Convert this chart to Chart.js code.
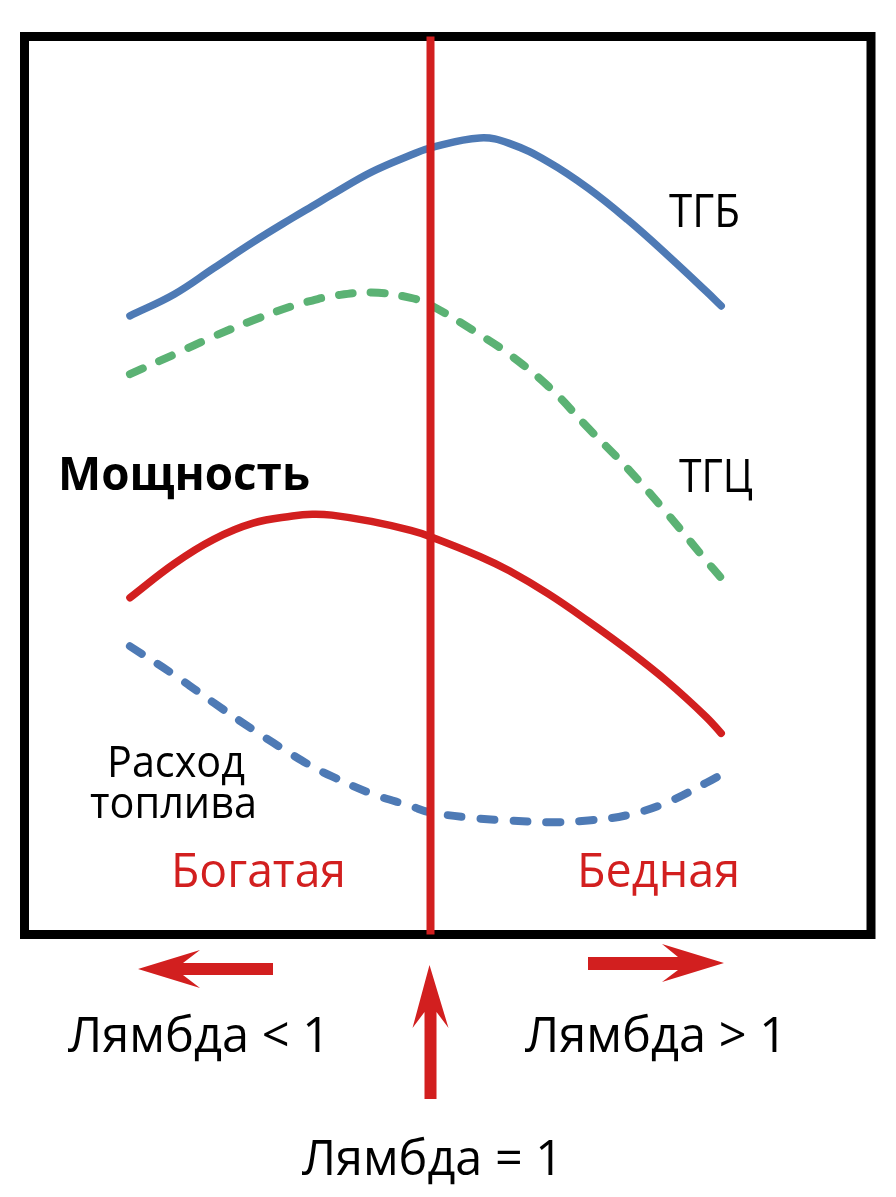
<!DOCTYPE html>
<html>
<head>
<meta charset="utf-8">
<script src="https://cdn.jsdelivr.net/npm/chart.js@4.4.1/dist/chart.umd.min.js"></script>
<style>
  html, body { margin: 0; padding: 0; background: #ffffff; }
  #wrap { position: relative; width: 896px; height: 1197px; }
</style>
</head>
<body>
<div id="wrap"><canvas id="c"></canvas></div>
<script>
// ---- data ----
const lambdaValues = [0.695, 0.74, 0.78, 0.82, 0.86, 0.88, 0.90, 0.94, 0.98, 1.00, 1.05, 1.08, 1.12, 1.16, 1.20, 1.24, 1.28, 1.295];
const tgbValues    = [68.9, 71.3, 74.2, 77.1, 79.8, 81.1, 82.4, 84.9, 86.8, 87.6, 88.7, 88.1, 86.0, 83.1, 79.6, 75.7, 71.6, 70.0];
const tgcValues    = [62.4, 64.6, 66.6, 68.4, 70.0, 70.6, 71.1, 71.5, 70.9, 70.1, 66.8, 64.6, 61.0, 56.4, 51.9, 46.9, 41.6, 39.7];
const powerValues  = [37.5, 41.3, 44.0, 45.8, 46.6, 46.8, 46.7, 46.0, 45.0, 44.3, 42.1, 40.5, 37.9, 34.9, 31.7, 28.2, 24.2, 22.4];
const fuelValues   = [32.1, 28.9, 25.8, 22.8, 20.0, 18.7, 17.6, 15.7, 14.3, 13.6, 12.9, 12.7, 12.5, 12.7, 13.3, 14.7, 16.9, 17.8];
const stoichLambda = 1;

const seriesNames = ['ТГБ', 'ТГЦ', 'Мощность', 'Расход топлива'];
const labelTGB = 'ТГБ';
const labelTGC = 'ТГЦ';
const labelPower = 'Мощность';
const labelFuel = ['Расход', 'топлива'];
const labelRich = 'Богатая';
const labelLean = 'Бедная';
const labelLess = 'Лямбда < 1';
const labelMore = 'Лямбда > 1';
const labelEq = 'Лямбда = 1';

// ---- styles ----
const BLUE = '#4E7AB5';
const GREEN = '#5BB274';
const RED = '#D21F1F';
const FONT = '"Open Sans", "Noto Sans", sans-serif';

function pts(ys) { return lambdaValues.map((x, i) => ({ x: x, y: ys[i] })); }

function fitText(ctx, text, cx, baseline, width, font, color) {
  ctx.save();
  ctx.font = font;
  const w = ctx.measureText(text).width;
  ctx.translate(cx, baseline);
  ctx.scale(width / w, 1);
  ctx.textAlign = 'center';
  ctx.textBaseline = 'alphabetic';
  ctx.fillStyle = color;
  ctx.fillText(text, 0, 0);
  ctx.restore();
}

function poly(ctx, p, color) {
  ctx.save();
  ctx.beginPath();
  ctx.moveTo(p[0][0], p[0][1]);
  for (let i = 1; i < p.length; i++) ctx.lineTo(p[i][0], p[i][1]);
  ctx.closePath();
  ctx.fillStyle = color;
  ctx.fill();
  ctx.restore();
}

const decor = {
  id: 'decor',
  beforeDraw(chart) {
    const ctx = chart.ctx;
    ctx.save();
    ctx.fillStyle = '#ffffff';
    ctx.fillRect(0, 0, chart.width, chart.height);
    ctx.restore();
  },
  afterDatasetsDraw(chart) {
    const ctx = chart.ctx;
    const a = chart.chartArea;
    const xs = chart.scales.x;
    // frame
    ctx.save();
    ctx.strokeStyle = '#000000';
    ctx.lineWidth = 9;
    ctx.strokeRect(a.left, a.top, a.right - a.left, a.bottom - a.top);
    ctx.restore();
    // lambda = 1 line
    const x1 = xs.getPixelForValue(stoichLambda);
    ctx.save();
    ctx.strokeStyle = RED;
    ctx.lineWidth = 8;
    ctx.beginPath();
    ctx.moveTo(x1, a.top);
    ctx.lineTo(x1, a.bottom);
    ctx.stroke();
    ctx.restore();

    // labels inside
    fitText(ctx, labelTGB, 704.5, 227, 71, '46px ' + FONT, '#000');
    fitText(ctx, labelTGC, 716, 492, 74, '46px ' + FONT, '#000');
    fitText(ctx, labelPower, 184, 490, 252, 'bold 47px ' + FONT, '#000');
    fitText(ctx, labelFuel[0], 176, 777, 138, '43px ' + FONT, '#000');
    fitText(ctx, labelFuel[1], 173.5, 818, 167, '43px ' + FONT, '#000');
    fitText(ctx, labelRich, 258.5, 887, 175, '48px ' + FONT, RED);
    fitText(ctx, labelLean, 658.5, 887, 163, '48px ' + FONT, RED);

    // arrows
    poly(ctx, [[138,969],[200,950],[183,963],[273,963],[273,975],[183,975],[200,988]], RED);
    poly(ctx, [[724,963],[662,944],[678,957],[588,957],[588,970],[678,970],[662,982]], RED);
    poly(ctx, [[x1-1,965],[x1+18,1028],[x1+6,1012],[x1+6,1099],[x1-6,1099],[x1-6,1012],[x1-18,1028]], RED);

    // labels below
    fitText(ctx, labelLess, 199, 1052, 262, '50px ' + FONT, '#000');
    fitText(ctx, labelMore, 656, 1052, 262, '50px ' + FONT, '#000');
    fitText(ctx, labelEq, 432.5, 1175, 261, '50px ' + FONT, '#000');
  }
};

const common = { pointRadius: 0, pointHoverRadius: 0, borderCapStyle: 'round', borderJoinStyle: 'round', fill: false, tension: 0.4 };

new Chart(document.getElementById('c'), {
  type: 'line',
  data: {
    datasets: [
      Object.assign({ label: seriesNames[0], data: pts(tgbValues), borderColor: BLUE, borderWidth: 7.5 }, common),
      Object.assign({ label: seriesNames[1], data: pts(tgcValues), borderColor: GREEN, borderWidth: 8, borderDash: [14, 18] }, common),
      Object.assign({ label: seriesNames[2], data: pts(powerValues), borderColor: RED, borderWidth: 7.5 }, common),
      Object.assign({ label: seriesNames[3], data: pts(fuelValues), borderColor: BLUE, borderWidth: 8, borderDash: [14, 19] }, common)
    ]
  },
  options: {
    responsive: true,
    maintainAspectRatio: false,
    animation: false,
    events: [],
    layout: { padding: { left: 24.5, right: 25, top: 36.5, bottom: 262.5 } },
    plugins: { legend: { display: false }, tooltip: { enabled: false }, title: { display: false } },
    scales: {
      x: { type: 'linear', min: 0.588, max: 1.447, display: false },
      y: { type: 'linear', min: 0, max: 100, display: false }
    }
  },
  plugins: [decor]
});
</script>
</body>
</html>
